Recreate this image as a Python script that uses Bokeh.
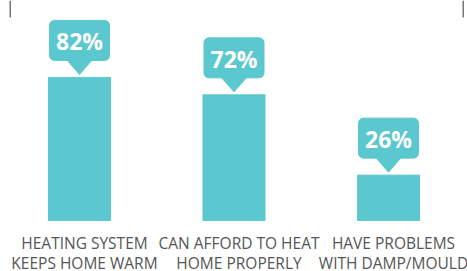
from bokeh.plotting import figure
from bokeh.models import Range1d, BoxAnnotation
from bokeh.core.properties import value
from bokeh.embed import file_html
from bokeh.resources import INLINE

cat_line1 = ["HEATING SYSTEM", "CAN AFFORD TO HEAT", "HAVE PROBLEMS"]
cat_line2 = ["KEEPS HOME WARM", "HOME PROPERLY", "WITH DAMP/MOULD"]
values = [82, 72, 26]
labels = ["82%", "72%", "26%"]

TEAL = "#5BC7CE"
W, H = 467, 271
KX = 154.5            # px per category
KY = 1.745            # px per percentage point
x0 = -79 / KX
y0 = -(H - 220) / KY

p = figure(width=W, height=H, output_backend="svg", toolbar_location=None,
           x_range=Range1d(x0, x0 + W / KX), y_range=Range1d(y0, y0 + H / KY),
           min_border=0, outline_line_color=None)
p.axis.visible = False
p.grid.visible = False
p.background_fill_color = "white"
p.border_fill_color = "white"

xs = list(range(len(values)))

# bars
p.vbar(x=xs, top=values, bottom=0, width=62 / KX, color=TEAL)

# callout bubbles
bub_bottom = [v + 17 / KY for v in values]
bub_top = [v + 57 / KY for v in values]
p.vbar(x=xs, top=bub_top, bottom=bub_bottom, width=60 / KX, color=TEAL, border_radius=5)
tri_x = [[x - 13 / KX, x + 13 / KX, x] for x in xs]
tri_y = [[b + 0.5, b + 0.5, v + 3 / KY] for b, v in zip(bub_bottom, values)]
p.patches(tri_x, tri_y, color=TEAL)
p.text(x=xs, y=[(b + t) / 2 for b, t in zip(bub_bottom, bub_top)], text=labels,
       text_align="center", text_baseline="middle", text_color="white",
       text_font=value("Open Sans"), text_font_style="bold", text_font_size="23px",
       y_offset=1)

# category labels (two lines)
for lines, off in ((cat_line1, 22), (cat_line2, 42)):
    p.text(x=xs, y=[0] * len(xs), text=lines, text_align="center", text_baseline="middle",
           text_color="#555555", text_font=value("Open Sans"), text_font_size="15.5px",
           x_offset=5, y_offset=off)

# decorative frame edges at top
for l in (9, 462):
    p.add_layout(BoxAnnotation(left=l, right=l + 1.5, top=H, bottom=H - 17,
                               left_units="screen", right_units="screen",
                               top_units="screen", bottom_units="screen",
                               fill_color="#777777", fill_alpha=1, line_color=None))

open("out.html", "w").write(file_html(p, INLINE))
